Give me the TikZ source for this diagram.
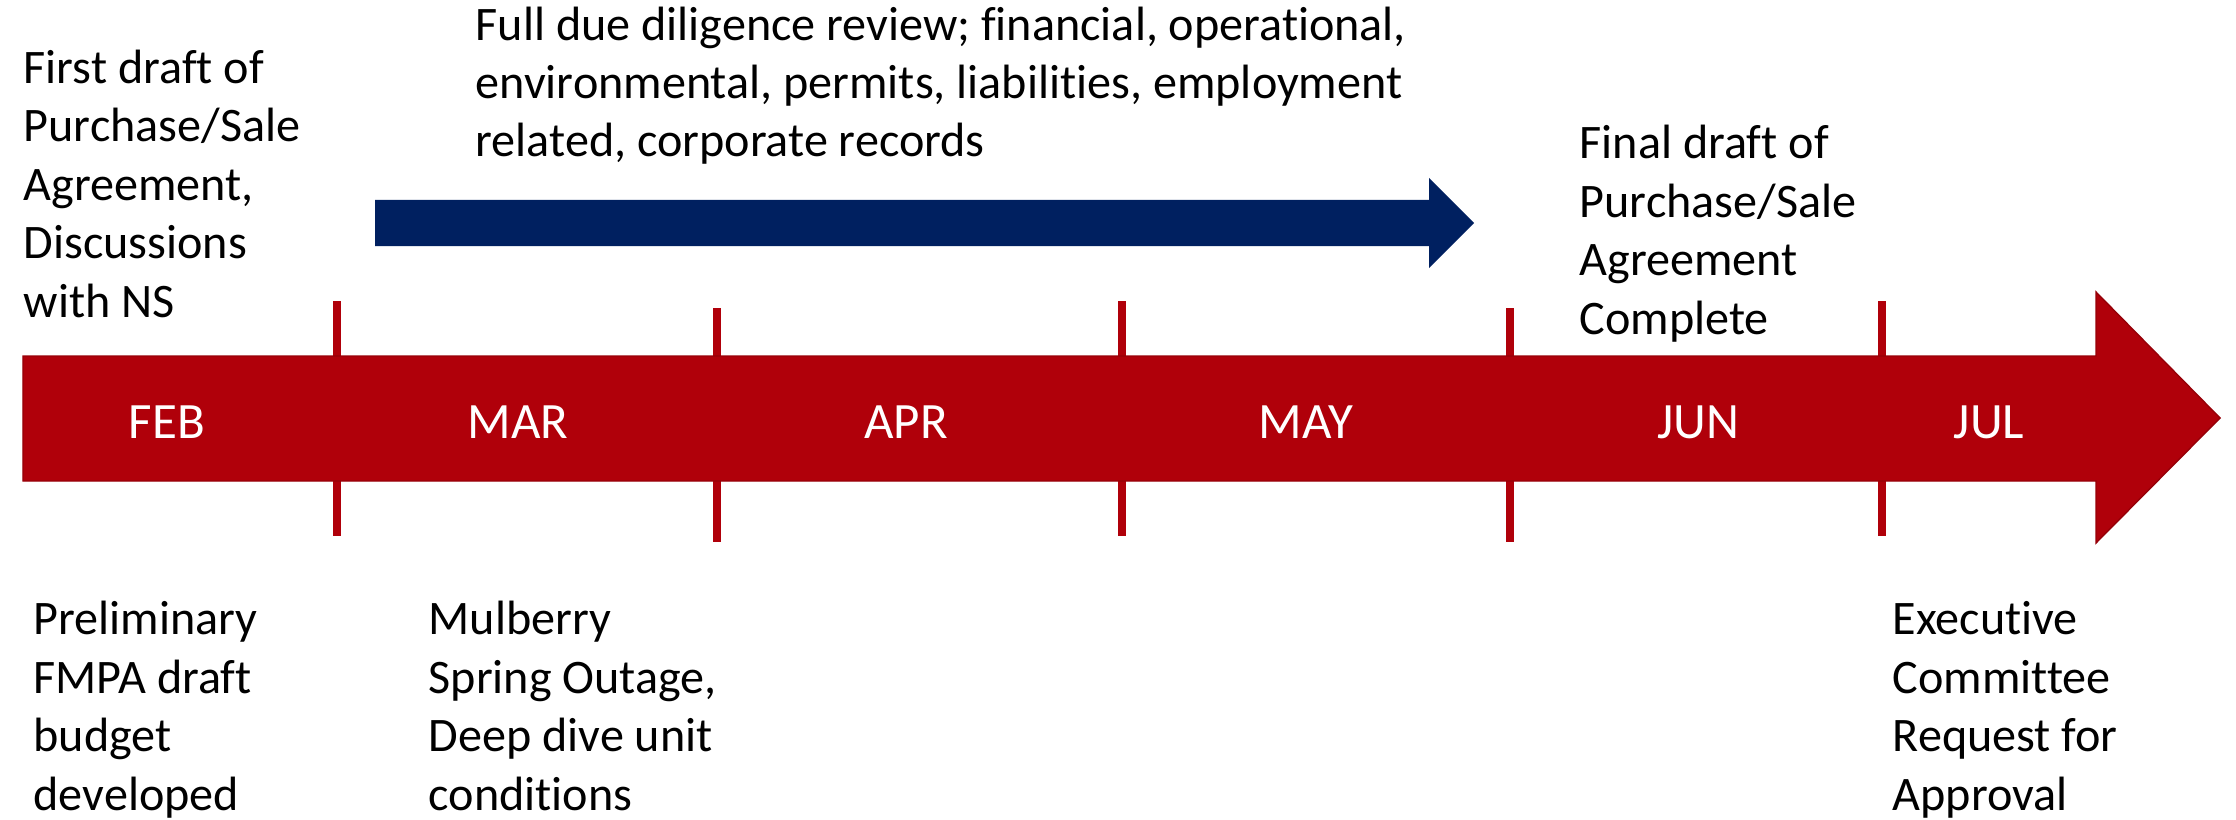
\documentclass[tikz,border=0pt]{standalone}
\usepackage{fontspec}
\setmainfont[Ligatures={NoCommon}]{Carlito}
\usepackage{xcolor}
\usetikzlibrary{calc,positioning}

\definecolor{darkred}{RGB}{176,0,10}
\definecolor{navy}{RGB}{0,32,96}

\tikzset{
	note/.style={anchor=base west,align=left,inner sep=0pt,font=\fontsize{13.7}{16.6}\selectfont},
	month/.style={text=white,inner sep=0pt,font=\fontsize{14.5}{17}\selectfont},
	tickmark/.style={darkred,line width=2pt}
}

\begin{document}
\begin{tikzpicture}
	\useasboundingbox (0,0) rectangle (22.36,8.19);
		% month ticks above and below the bar
		\foreach \x/\a/\b in {3.37/5.18/2.83,7.17/5.11/2.77,11.22/5.18/2.83,15.10/5.11/2.77,18.82/5.18/2.83}{
			\draw[tickmark] (\x,\a) -- (\x,\b);
		}
		\fill[darkred,draw=darkred!85!black,line width=0.4pt] (0.23,3.38) -- (20.96,3.38) -- (20.96,2.76) -- (22.20,4.01) -- (20.96,5.27) -- (20.96,4.63) -- (0.23,4.63) -- cycle;
		\fill[navy] (3.75,5.73) -- (14.29,5.73) -- (14.29,5.51) -- (14.74,5.96) -- (14.29,6.41) -- (14.29,6.19) -- (3.75,6.19) -- cycle;
		\foreach \x/\m/\n in {1.67/FEB/feb,5.18/MAR/mar,9.06/APR/apr,13.06/MAY/may,16.98/JUN/jun,19.89/JUL/jul}{
			\node[month] (\n) at (\x,3.97) {\m};
		}
		% base west = baseline of the last line
		\node[note] (firstdraft) at (0.23,5.02) {First draft of\\Purchase/Sale\\Agreement,\\Discussions\\with NS};
		\node[note] (diligence) at (4.75,6.62) {Full due diligence review; financial, operational,\\environmental, permits, liabilities, employment\\related, corporate records};
		\node[note] (finaldraft) at (15.79,4.85) {Final draft of\\Purchase/Sale\\Agreement\\Complete};
		\node[note] (budget) at (0.33,0.09) {Preliminary\\FMPA draft\\budget\\developed};
		\node[note] (outage) at (4.28,0.09) {Mulberry\\Spring Outage,\\Deep dive unit\\conditions};
		\node[note] (approval) at (18.92,0.09) {Executive\\Committee\\Request for\\Approval};
\end{tikzpicture}
\end{document}
